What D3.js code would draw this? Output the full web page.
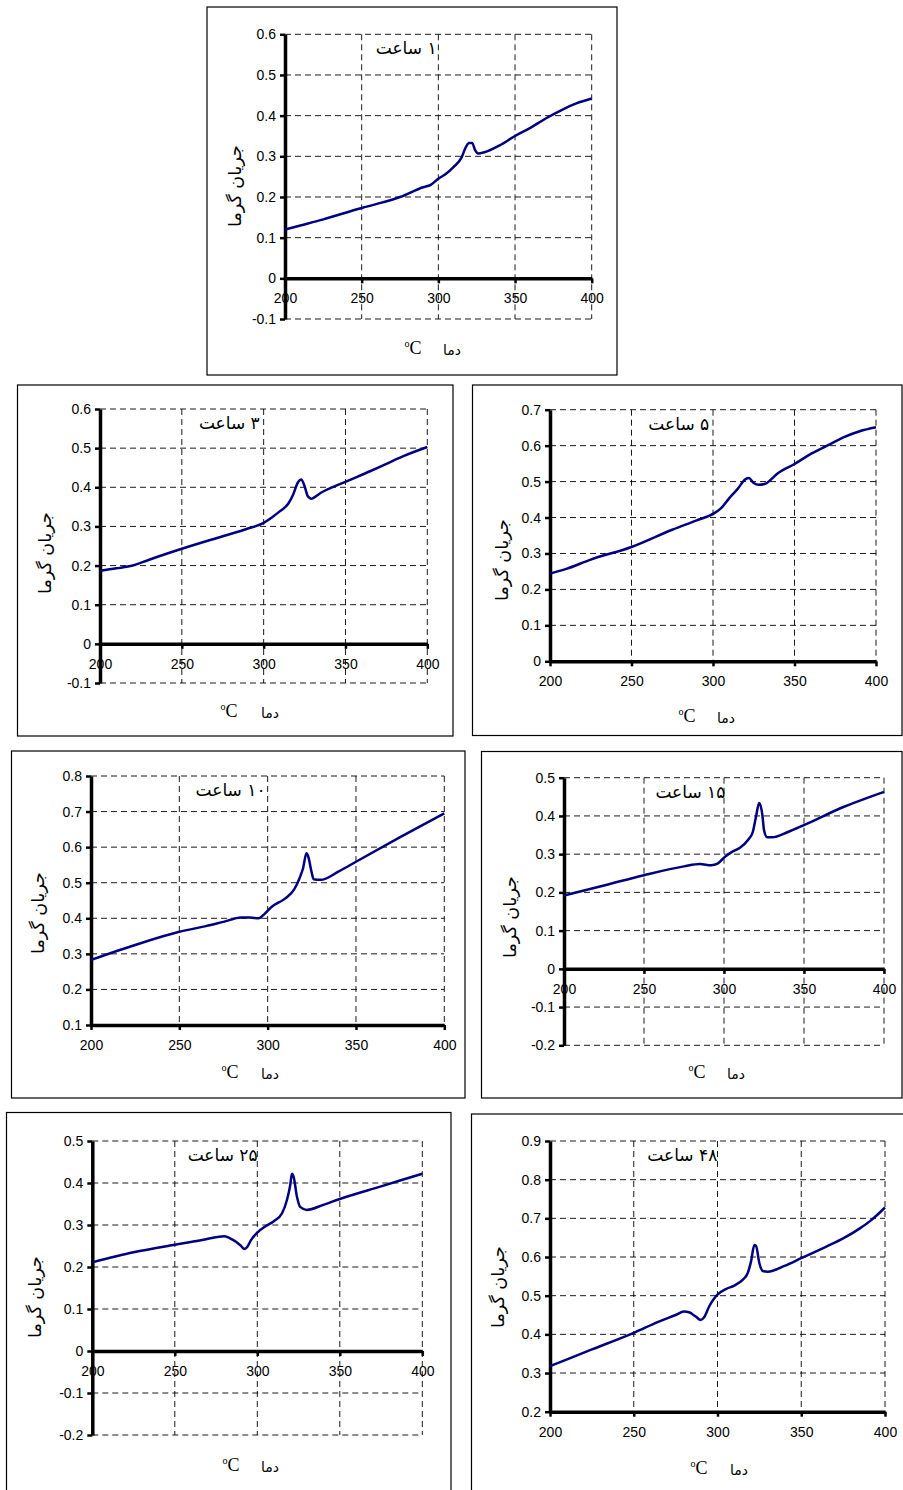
<!DOCTYPE html>
<html>
<head>
<meta charset="utf-8">
<script src="https://cdnjs.cloudflare.com/ajax/libs/d3/7.8.5/d3.min.js"></script>
<style>
    body { margin: 0; background: #fff; }
    svg { display: block; }
    .tick text { font-family: Arial, "Liberation Sans", sans-serif; font-size: 14px; fill: #000; }
    .fa { font-family: "DejaVu Sans", sans-serif; }
    .serif { font-family: "Times New Roman", "Liberation Serif", serif; }
</style>
</head>
<body>
<div id="chart"></div>
<script>
// shared tick values and labels
const xTicks = [200, 250, 300, 350, 400]
const yLabel = "جریان گرما"
const xLabel = "دما"
const titles = ["۱ ساعت", "۳ ساعت", "۵ ساعت", "۱۰ ساعت", "۱۵ ساعت", "۲۵ ساعت", "۴۸ ساعت"]

const yTicks1 = [-0.1, 0, 0.1, 0.2, 0.3, 0.4, 0.5, 0.6]
const yTicks3 = [-0.1, 0, 0.1, 0.2, 0.3, 0.4, 0.5, 0.6]
const yTicks5 = [0, 0.1, 0.2, 0.3, 0.4, 0.5, 0.6, 0.7]
const yTicks10 = [0.1, 0.2, 0.3, 0.4, 0.5, 0.6, 0.7, 0.8]
const yTicks15 = [-0.2, -0.1, 0, 0.1, 0.2, 0.3, 0.4, 0.5]
const yTicks25 = [-0.2, -0.1, 0, 0.1, 0.2, 0.3, 0.4, 0.5]
const yTicks48 = [0.2, 0.3, 0.4, 0.5, 0.6, 0.7, 0.8, 0.9]

// curves: temperature (°C) and heat flow
const temp1 = [200, 210, 225, 250, 260, 275, 290, 295, 300, 305, 310, 315, 318, 320, 322, 324, 326, 330, 340, 350, 360, 370, 380, 390, 400]
const flow1 = [0.12, 0.13, 0.145, 0.173, 0.183, 0.2, 0.224, 0.23, 0.245, 0.257, 0.274, 0.296, 0.323, 0.333, 0.333, 0.315, 0.307, 0.31, 0.327, 0.35, 0.37, 0.393, 0.413, 0.43, 0.442]

const temp3 = [200, 210, 220, 230, 250, 275, 290, 300, 305, 310, 315, 318, 321, 323, 325, 327, 329, 335, 350, 365, 375, 385, 400]
const flow3 = [0.187, 0.193, 0.2, 0.215, 0.243, 0.275, 0.294, 0.309, 0.323, 0.339, 0.358, 0.381, 0.413, 0.42, 0.403, 0.377, 0.371, 0.386, 0.414, 0.441, 0.46, 0.479, 0.503]

const temp5 = [200, 210, 225, 250, 275, 290, 300, 305, 310, 315, 320, 322, 325, 328, 332, 340, 350, 360, 370, 380, 390, 400]
const flow5 = [0.244, 0.257, 0.283, 0.318, 0.366, 0.392, 0.41, 0.426, 0.454, 0.479, 0.507, 0.51, 0.496, 0.491, 0.494, 0.524, 0.549, 0.577, 0.6, 0.623, 0.64, 0.651]

const temp10 = [200, 225, 250, 265, 275, 285, 290, 295, 298, 302, 310, 315, 318, 320, 322, 323, 325, 326, 330, 340, 350, 375, 400]
const flow10 = [0.283, 0.325, 0.362, 0.378, 0.39, 0.402, 0.402, 0.4, 0.411, 0.431, 0.456, 0.481, 0.512, 0.54, 0.583, 0.573, 0.527, 0.51, 0.508, 0.531, 0.559, 0.628, 0.695]

const temp15 = [200, 225, 250, 275, 285, 292, 296, 300, 305, 310, 315, 318, 320, 322, 324, 325, 327, 330, 340, 350, 375, 390, 400]
const flow15 = [0.192, 0.218, 0.245, 0.268, 0.274, 0.271, 0.275, 0.291, 0.306, 0.317, 0.337, 0.358, 0.398, 0.434, 0.402, 0.363, 0.344, 0.344, 0.358, 0.376, 0.424, 0.448, 0.463]

const temp25 = [200, 225, 250, 265, 275, 280, 285, 290, 292, 294, 296, 300, 305, 310, 315, 318, 320, 321, 322, 324, 326, 330, 340, 350, 375, 400]
const flow25 = [0.211, 0.235, 0.253, 0.263, 0.271, 0.273, 0.265, 0.251, 0.243, 0.248, 0.263, 0.282, 0.297, 0.309, 0.328, 0.36, 0.396, 0.422, 0.415, 0.368, 0.343, 0.336, 0.348, 0.362, 0.392, 0.422]

const temp48 = [200, 225, 250, 265, 275, 280, 283, 287, 290, 292, 295, 298, 300, 305, 310, 315, 318, 320, 322, 323, 325, 327, 330, 340, 350, 365, 375, 385, 392, 400]
const flow48 = [0.318, 0.361, 0.404, 0.433, 0.45, 0.459, 0.457, 0.446, 0.437, 0.444, 0.472, 0.493, 0.503, 0.517, 0.526, 0.541, 0.558, 0.588, 0.631, 0.629, 0.584, 0.564, 0.562, 0.577, 0.597, 0.627, 0.648, 0.674, 0.696, 0.728]

const width = 903, height = 1490

// where each small chart sits on the page
const panels = [
    { title: titles[0], temps: temp1, flows: flow1, yTicks: yTicks1, frame: [207, 7, 617, 375], left: 285, right: 591.7, top: 34.3, bottom: 319, yLab: [235, 186], xLab: [413, 452, 348] },
    { title: titles[1], temps: temp3, flows: flow3, yTicks: yTicks3, frame: [17.5, 385, 453, 736], left: 100, right: 427.3, top: 409, bottom: 683, yLab: [45, 553], xLab: [229, 270, 711] },
    { title: titles[2], temps: temp5, flows: flow5, yTicks: yTicks5, frame: [472.5, 385, 902, 735.5], left: 550, right: 876, top: 409.7, bottom: 661.3, yLab: [502, 560], xLab: [687, 726, 716] },
    { title: titles[3], temps: temp10, flows: flow10, yTicks: yTicks10, frame: [11.5, 751, 465, 1098], left: 91, right: 444.3, top: 776, bottom: 1025, yLab: [38, 913], xLab: [230, 270, 1072] },
    { title: titles[4], temps: temp15, flows: flow15, yTicks: yTicks15, frame: [481.5, 751.5, 902, 1098], left: 564, right: 884, top: 777.7, bottom: 1045.3, yLab: [510, 917], xLab: [697, 736, 1072] },
    { title: titles[5], temps: temp25, flows: flow25, yTicks: yTicks25, frame: [6.5, 1112.5, 451, 1495], left: 92.3, right: 422.3, top: 1141, bottom: 1435, yLab: [35, 1297], xLab: [231, 270, 1465] },
    { title: titles[6], temps: temp48, flows: flow48, yTicks: yTicks48, frame: [471.5, 1114, 910, 1495], left: 550, right: 885, top: 1141, bottom: 1411.7, yLab: [498, 1287], xLab: [699, 739, 1468] }
]

const svg = d3.select("#chart")
    .append("svg")
    .attr("width", width)
    .attr("height", height)
    .attr("viewBox", [0, 0, width, height])

const fmt = v => Math.abs(v) < 1e-9 ? "0" : v.toFixed(1)

panels.forEach(p => {
    const g = svg.append("g")

    // outer box
    g.append("rect")
        .attr("x", p.frame[0])
        .attr("y", p.frame[1])
        .attr("width", p.frame[2] - p.frame[0])
        .attr("height", p.frame[3] - p.frame[1])
        .attr("fill", "none")
        .attr("stroke", "#000")
        .attr("stroke-width", 1.2)

    const xScale = d3.scaleLinear().domain([200, 400]).range([p.left, p.right])
    const yScale = d3.scaleLinear().domain(d3.extent(p.yTicks)).range([p.bottom, p.top])
    const baseV = Math.max(0, p.yTicks[0])

    // dashed grid
    g.selectAll(".hgrid")
        .data(p.yTicks.filter(v => Math.abs(v - baseV) > 1e-9))
        .enter().append("line")
        .attr("x1", xScale(200))
        .attr("x2", xScale(400))
        .attr("y1", d => yScale(d))
        .attr("y2", d => yScale(d))
        .attr("stroke", "#000")
        .attr("stroke-width", 0.9)
        .attr("stroke-dasharray", "6,4")

    g.selectAll(".vgrid")
        .data(xTicks.slice(1))
        .enter().append("line")
        .attr("x1", d => xScale(d))
        .attr("x2", d => xScale(d))
        .attr("y1", yScale.range()[1])
        .attr("y2", yScale.range()[0])
        .attr("stroke", "#000")
        .attr("stroke-width", 0.9)
        .attr("stroke-dasharray", "6,4")

    // x-axis sits on zero (or on the lowest tick)
    const xAxis = g.append("g")
        .attr("transform", `translate(0,${yScale(baseV)})`)
        .call(d3.axisBottom(xScale).tickValues(xTicks).tickSize(5).tickSizeOuter(0).tickPadding(10))
    xAxis.select(".domain").attr("stroke-width", 3.5)
    xAxis.selectAll(".tick line").attr("stroke-width", 2.5)

    const yAxis = g.append("g")
        .attr("transform", `translate(${xScale(200)},0)`)
        .call(d3.axisLeft(yScale).tickValues(p.yTicks).tickFormat(fmt).tickSize(5).tickSizeOuter(0).tickPadding(4))
    yAxis.select(".domain").attr("stroke-width", 3.5)
    yAxis.selectAll(".tick line").attr("stroke-width", 2.5)

    // the curve
    const line = d3.line()
        .x((d, i) => xScale(p.temps[i]))
        .y(d => yScale(d))
        .curve(d3.curveMonotoneX)

    g.append("path")
        .datum(p.flows)
        .attr("d", line)
        .attr("fill", "none")
        .attr("stroke", "#000080")
        .attr("stroke-width", 2.5)
        .attr("stroke-linejoin", "round")

    // titles and labels
    g.append("text")
        .attr("class", "fa")
        .attr("x", xScale(279))
        .attr("y", yScale.range()[1] + 14)
        .attr("direction", "rtl")
        .attr("text-anchor", "middle")
        .attr("dominant-baseline", "central")
        .attr("font-size", 17)
        .text(p.title)

    g.append("text")
        .attr("class", "fa")
        .attr("transform", `translate(${p.yLab[0]},${p.yLab[1]}) rotate(-90)`)
        .attr("direction", "rtl")
        .attr("text-anchor", "middle")
        .attr("dominant-baseline", "central")
        .attr("font-size", 17.5)
        .text(yLabel)

    const deg = g.append("text")
        .attr("class", "serif")
        .attr("x", p.xLab[0])
        .attr("y", p.xLab[2] + 6)
        .attr("text-anchor", "middle")
        .attr("font-size", 18)
    deg.append("tspan").attr("font-size", 10).attr("dy", -7).text("o")
    deg.append("tspan").attr("dy", 7).text("C")

    g.append("text")
        .attr("class", "fa")
        .attr("x", p.xLab[1])
        .attr("y", p.xLab[2] + 2)
        .attr("direction", "rtl")
        .attr("text-anchor", "middle")
        .attr("dominant-baseline", "central")
        .attr("font-size", 14)
        .text(xLabel)
})
</script>
</body>
</html>
